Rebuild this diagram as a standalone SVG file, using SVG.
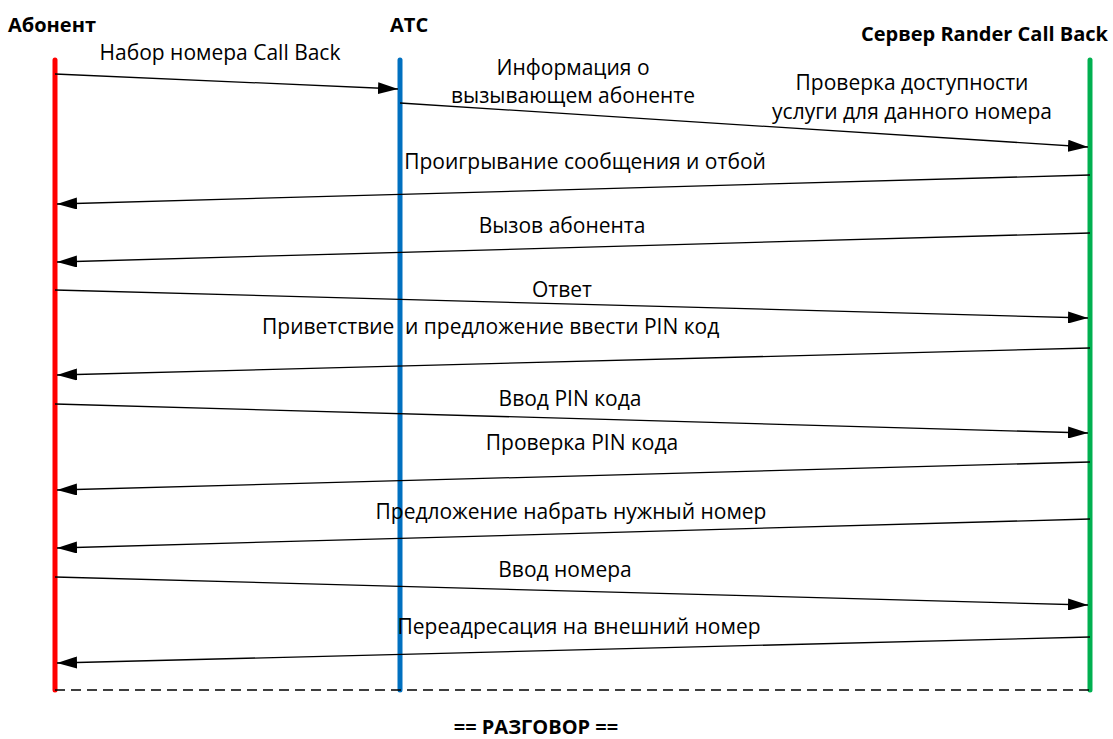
<svg xmlns="http://www.w3.org/2000/svg" width="1113" height="739" viewBox="0 0 1113 739">
<style>
.t{font-family:"Open Sans","Liberation Sans",sans-serif;font-size:21px;fill:#000;text-anchor:middle}
.s{text-anchor:start}
.h{font-family:"Open Sans","Liberation Sans",sans-serif;font-size:20px;font-weight:bold;fill:#000}
.m{stroke:#000;stroke-width:1.3;fill:none;marker-end:url(#ah)}
.ll{stroke-width:5;stroke-linecap:round}
</style>
<defs>
<marker id="ah" viewBox="0 0 20 12" refX="20" refY="6" markerWidth="20" markerHeight="12" markerUnits="userSpaceOnUse" orient="auto">
<path d="M0,0 L20,6 L0,12 z" fill="#000"/>
</marker>
</defs>
<rect width="1113" height="739" fill="#fff"/>
<g id="abonent">
<text class="h" x="8" y="32">Абонент</text>
<line class="ll" x1="55" y1="60" x2="55" y2="690" stroke="#ff0000"/>
</g>
<g id="ats">
<text class="h" x="390" y="32">АТС</text>
<line class="ll" x1="400" y1="60" x2="400" y2="690" stroke="#0070c0"/>
</g>
<g id="server">
<text class="h" x="1108" y="41" text-anchor="end">Сервер Rander Call Back</text>
<line class="ll" x1="1090" y1="60" x2="1090" y2="690" stroke="#00b050"/>
</g>
<g id="connectors">
<line class="m" x1="55" y1="74" x2="398" y2="89"/>
<line class="m" x1="400" y1="103" x2="1088" y2="147"/>
<line class="m" x1="1090" y1="175" x2="57" y2="204"/>
<line class="m" x1="1090" y1="233" x2="57" y2="262"/>
<line class="m" x1="55" y1="290" x2="1088" y2="318"/>
<line class="m" x1="1090" y1="348" x2="57" y2="375"/>
<line class="m" x1="55" y1="404" x2="1088" y2="433"/>
<line class="m" x1="1090" y1="462" x2="57" y2="490"/>
<line class="m" x1="1090" y1="519" x2="57" y2="548"/>
<line class="m" x1="55" y1="577" x2="1088" y2="605"/>
<line class="m" x1="1090" y1="637" x2="57" y2="663"/>
<line x1="55" y1="690" x2="1090" y2="690" stroke="#000" stroke-width="1.3" stroke-dasharray="10,6"/>
</g>
<g id="labels">
<text class="t" x="220" y="60">Набор номера Call Back</text>
<text class="t" x="573" y="75">Информация о</text>
<text class="t" x="573" y="103">вызывающем абоненте</text>
<text class="t" x="912" y="90">Проверка доступности</text>
<text class="t" x="912" y="119">услуги для данного номера</text>
<text class="t" x="585" y="169">Проигрывание сообщения и отбой</text>
<text class="t" x="562" y="233">Вызов абонента</text>
<text class="t" x="562" y="297">Ответ</text>
<text class="t s" x="262" y="334">Приветствие<tspan x="405">и предложение ввести PIN код</tspan></text>
<text class="t" x="570" y="406">Ввод PIN кода</text>
<text class="t" x="582" y="450">Проверка PIN кода</text>
<text class="t" x="571" y="519">Предложение набрать нужный номер</text>
<text class="t" x="565" y="577">Ввод номера</text>
<text class="t" x="579" y="634">Переадресация на внешний номер</text>
<text class="h" x="536" y="734" text-anchor="middle">== РАЗГОВОР ==</text>
</g>
</svg>
